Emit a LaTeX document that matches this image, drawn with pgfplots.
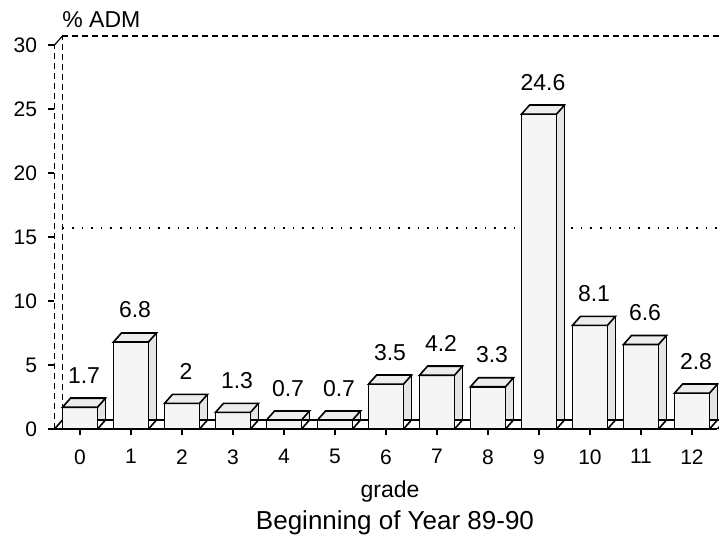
\documentclass[border=0pt]{standalone}
\usepackage{fontspec}
\setmainfont{Liberation Sans}
\usepackage{pgfplots}
\pgfplotsset{compat=1.18}
\usepackage{pgfplotstable}

\pgfplotstableread{
g v
0 1.7
1 6.8
2 2
3 1.3
4 0.7
5 0.7
6 3.5
7 4.2
8 3.3
9 24.6
10 8.1
11 6.6
12 2.8
}\datatable

\pgfdeclareplotmark{topface}{%
  \pgfpathmoveto{\pgfqpoint{-8.75pt}{0pt}}%
  \pgfpathlineto{\pgfqpoint{8.75pt}{0pt}}%
  \pgfpathlineto{\pgfqpoint{12.75pt}{4.5pt}}%
  \pgfpathlineto{\pgfqpoint{-4.75pt}{4.5pt}}%
  \pgfpathclose\pgfusepathqfillstroke}
\pgfdeclareplotmark{floordiag}{%
  \pgfpathmoveto{\pgfqpoint{8.75pt}{0pt}}%
  \pgfpathlineto{\pgfqpoint{12.75pt}{4.5pt}}%
  \pgfusepathqstroke}

\begin{document}
\begin{tikzpicture}
\begin{axis}[
  at={(0,0)}, anchor=south west,
  scale only axis, width=331.5pt, height=192pt,
  xmin=-0.5, xmax=12.5, ymin=0, ymax=30,
  clip=false,
  axis x line*=bottom, axis y line*=left,
  axis line style={-, line width=0.6pt},
  x axis line style={line width=1pt},
  y axis line style={densely dashed},
  xtick={0,...,12}, ytick={0,5,...,30},
  tick align=outside, major tick length=3pt,
  tick style={black, line width=0.6pt},
  /pgf/number format/assume math mode=true,
  ticklabel style={font=\fontsize{10.5}{12}\selectfont},
  yticklabel style={inner sep=0pt, xshift=-5.5pt},
  xticklabel style={inner sep=0pt, yshift=-7pt},
]
% back wall
\draw[densely dashed, line width=0.6pt] ([xshift=4pt,yshift=4.5pt]axis cs:-0.5,0) -- ([xshift=4pt,yshift=4.5pt]axis cs:-0.5,30);
\draw[line width=0.6pt] (axis cs:-0.5,30) -- ([xshift=4pt,yshift=4.5pt]axis cs:-0.5,30);
\draw[loosely dotted, line width=0.8pt] ([xshift=4pt,yshift=4.5pt]axis cs:-0.5,15) -- ([xshift=4pt,yshift=4.5pt]axis cs:12.5,15);
\draw[densely dashed, line width=0.8pt] ([xshift=4pt,yshift=4.5pt]axis cs:-0.5,30) -- ([xshift=4pt,yshift=4.5pt]axis cs:12.5,30);
% floor
\draw[line width=0.8pt] ([xshift=4pt,yshift=4.5pt]axis cs:-0.5,0) -- ([xshift=4pt,yshift=4.5pt]axis cs:12.5,0);
\draw[line width=0.8pt] (axis cs:-0.5,0) -- ([xshift=4pt,yshift=4.5pt]axis cs:-0.5,0);
\draw[line width=0.8pt] (axis cs:12.5,0) -- ([xshift=4pt,yshift=4.5pt]axis cs:12.5,0);

% side faces (back box)
\addplot[ybar, bar width=17.5pt, bar shift=4pt, yshift=4.5pt, fill=black!10, draw=black, line width=0.8pt] table[x=g,y=v] {\datatable};
% floor diagonals
\addplot[only marks, mark=floordiag, mark options={draw=black, line width=0.8pt}] coordinates {(0,0) (1,0) (2,0) (3,0) (4,0) (5,0) (6,0) (7,0) (8,0) (9,0) (10,0) (11,0) (12,0)};
% front faces
\addplot[ybar, bar width=17.5pt, bar shift=0pt, fill=black!4, draw=black, line width=0.8pt,
  nodes near coords,
  nodes near coords style={font=\fontsize{11.5}{13}\selectfont, anchor=south, inner sep=0pt, yshift=11.5pt, xshift=2pt, text=black}] table[x=g,y=v] {\datatable};
% top faces
\addplot[only marks, mark=topface, mark options={fill=black!7, draw=black, line width=0.8pt}] table[x=g,y=v] {\datatable};

\node[anchor=west, inner sep=0pt, font=\fontsize{11.5}{13}\selectfont] at ([xshift=3.75pt,yshift=12.5pt]rel axis cs:0,1) {\% ADM};
\node[anchor=center, inner sep=0pt, font=\fontsize{11.5}{13}\selectfont] at ([xshift=2pt,yshift=-31.5pt]rel axis cs:0.5,0) {grade};
\node[anchor=center, inner sep=0pt, font=\fontsize{13}{15}\selectfont] at ([xshift=4.5pt,yshift=-47pt]rel axis cs:0.5,0) {Beginning of Year 89-90};
\end{axis}
\pgfresetboundingbox
\path[use as bounding box] (-27.25pt,-63.5pt) rectangle (332.25pt,214.5pt);
\end{tikzpicture}
\end{document}
